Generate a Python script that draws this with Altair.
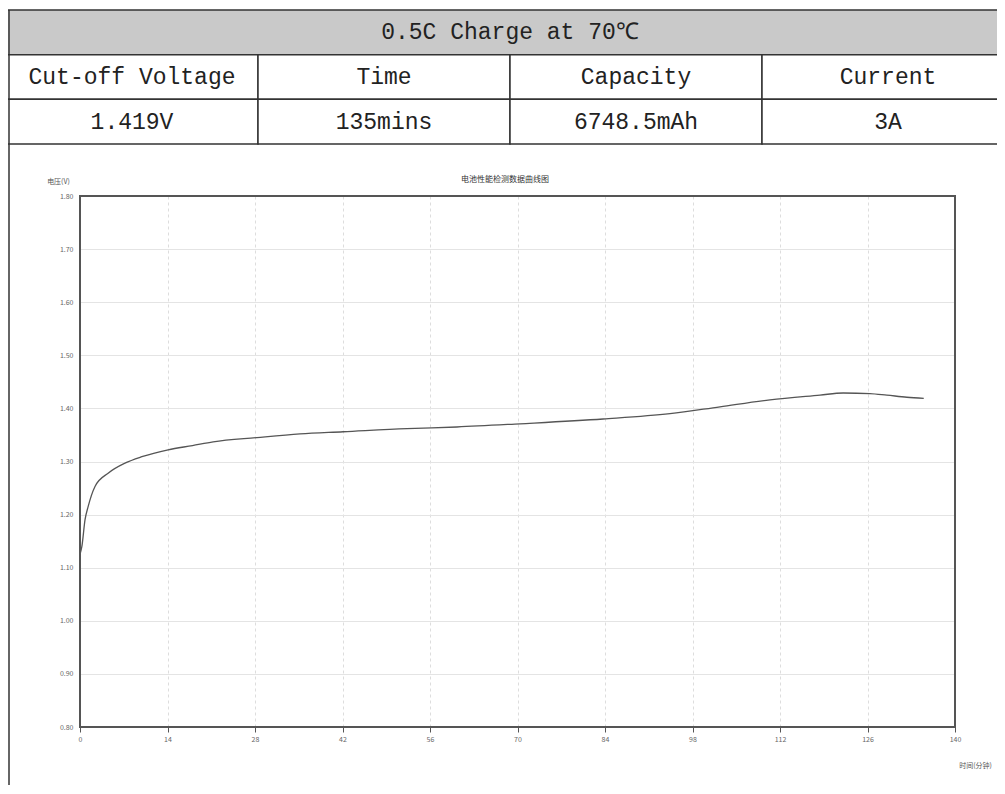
import altair as alt
import pandas as pd

# ---- curve data (time in minutes, voltage in V) ----
time_min = [0, 0.3, 0.8, 1.3, 2.4, 4.5, 7.2, 9.9, 14.1, 18.0, 21.3, 28.3, 35.2,
            42.1, 52.3, 60.3, 70.4, 83.7, 94.4, 102.4, 110.4, 118.4, 122.1,
            126.4, 129.1, 132.3, 135]
voltage = [1.125, 1.14, 1.19, 1.215, 1.253, 1.278, 1.297, 1.309, 1.322, 1.330,
           1.337, 1.345, 1.352, 1.356, 1.362, 1.365, 1.371, 1.380, 1.390, 1.403,
           1.416, 1.425, 1.429, 1.428, 1.425, 1.421, 1.419]

x_ticks = [0, 14, 28, 42, 56, 70, 84, 98, 112, 126, 140]
y_ticks = [0.8, 0.9, 1.0, 1.1, 1.2, 1.3, 1.4, 1.5, 1.6, 1.7, 1.8]

# ---- table content ----
header_text = ["0.5C Charge at 70℃"]
col_labels = ["Cut-off Voltage", "Time", "Capacity", "Current"]
col_values = ["1.419V", "135mins", "6748.5mAh", "3A"]

chart_title = "电池性能检测数据曲线图"
y_title = "电压(V)"
x_title = "时间(分钟)"

curve = pd.DataFrame({"t": time_min, "v": voltage})

# table cells
cells = [{"x0": 0, "x1": 4, "y0": 0, "y1": 1, "kind": "head"}]
texts = [{"xc": 2, "yc": 0.5, "label": header_text[0]}]
for i, (lab, val) in enumerate(zip(col_labels, col_values)):
    cells.append({"x0": i, "x1": i + 1, "y0": 1, "y1": 2, "kind": "cell"})
    cells.append({"x0": i, "x1": i + 1, "y0": 2, "y1": 3, "kind": "cell"})
    texts.append({"xc": i + 0.5, "yc": 1.5, "label": lab})
    texts.append({"xc": i + 0.5, "yc": 2.5, "label": val})
cells_df = pd.DataFrame(cells)
texts_df = pd.DataFrame(texts)

FONT_CN = "Noto Sans CJK SC"
FONT_TABLE = "Liberation Mono"

tx = alt.Scale(domain=[0, 4], range=[-74, 934])
ty = alt.Scale(domain=[0, 3], range=[-186, -52])

one = pd.DataFrame({"a": [0]})

rects = alt.Chart(cells_df).mark_rect(stroke="#333333", strokeWidth=1.5).encode(
    x=alt.X("x0:Q", scale=tx, axis=None),
    x2="x1:Q",
    y=alt.Y("y0:Q", scale=ty, axis=None),
    y2="y1:Q",
    fill=alt.Fill("kind:N", scale=alt.Scale(domain=["head", "cell"],
                                            range=["#c9c9c9", "#ffffff"]),
                  legend=None),
)

labels = alt.Chart(texts_df).mark_text(
    font=FONT_TABLE, fontSize=23, color="#222222", baseline="middle", align="center"
).encode(
    x=alt.X("xc:Q", scale=tx, axis=None),
    y=alt.Y("yc:Q", scale=ty, axis=None),
    text="label:N",
)

left_border = alt.Chart(one).mark_rule(
    color="#333333", strokeWidth=1.5
).encode(x=alt.value(-71), y=alt.value(-186), y2=alt.value(600))

title_mark = alt.Chart(one).mark_text(
    font=FONT_CN, fontSize=8, color="#333333", align="center", baseline="middle"
).encode(x=alt.value(425), y=alt.value(-16), text=alt.value(chart_title))

table = alt.layer(rects, labels, left_border, title_mark)

line = alt.Chart(curve).mark_line(
    color="#555555", strokeWidth=1.3, interpolate="monotone"
).encode(
    x=alt.X("t:Q", scale=alt.Scale(domain=[0, 140], nice=False, zero=False),
            axis=alt.Axis(values=x_ticks, title=x_title, titleAngle=0,
                          titleX=895, titleY=34, titleAlign="center",
                          titleFont=FONT_CN, titleFontSize=7, titleFontWeight="normal",
                          titleColor="#555555",
                          labelFont=FONT_CN, labelFontSize=7, labelColor="#666666",
                          labelPadding=3, tickSize=5, tickColor="#555555",
                          domain=False, grid=True, gridDash=[3, 3],
                          gridColor="#dddddd", labelFlush=False)),
    y=alt.Y("v:Q", scale=alt.Scale(domain=[0.8, 1.8], nice=False, zero=False),
            axis=alt.Axis(values=y_ticks, format=".2f", title=y_title,
                          titleAngle=0, titleX=-22, titleY=-15, titleAlign="center",
                          titleBaseline="middle",
                          titleFont=FONT_CN, titleFontSize=7, titleFontWeight="normal",
                          titleColor="#555555",
                          labelFont=FONT_CN, labelFontSize=7, labelColor="#666666",
                          labelPadding=7, ticks=False, domain=False,
                          grid=True, gridColor="#e4e4e4", labelFlush=False)),
)

frame = alt.Chart(one).mark_rect(filled=False, stroke="#555555", strokeWidth=2).encode(
    x=alt.value(0), x2=alt.value(875), y=alt.value(0), y2=alt.value(531)
)

chart = alt.layer(line, frame, table).resolve_scale(
    x="independent", y="independent"
).properties(
    width=875,
    height=531,
    autosize=alt.AutoSizeParams(type="none"),
    padding={"left": 72, "top": 188, "right": 42, "bottom": 58},
).configure(
    background="white",
    view=alt.ViewConfig(stroke="#555555", strokeWidth=2),
)

chart.save("out.html", embed_options={"renderer": "svg", "actions": False})
